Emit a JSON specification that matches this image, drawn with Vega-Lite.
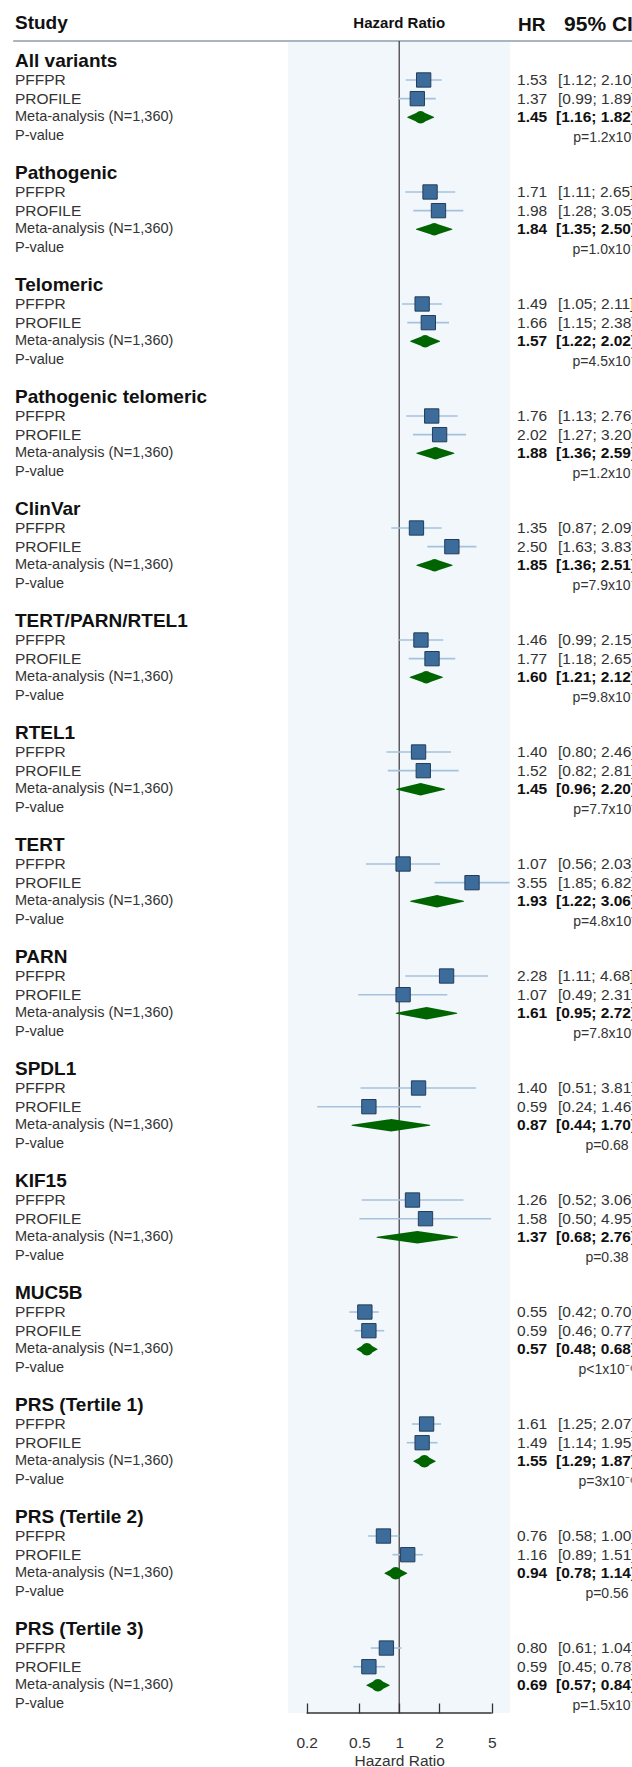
{
  "$schema": "https://vega.github.io/schema/vega-lite/v6.json",
  "width": 632,
  "height": 1713,
  "autosize": "none",
  "padding": {"left": 0, "right": 0, "top": 0, "bottom": 54},
  "background": "white",
  "config": {"view": {"stroke": null}, "font": "Liberation Sans", "text": {"font": "Liberation Sans"}},
  "data": {"name": "f"},
  "datasets": {
    "f": [
      {"grp": "All variants", "kind": "title", "row": 0, "label": "All variants"},
      {"grp": "All variants", "kind": "study", "row": 1, "label": "PFFPR", "hr": 1.53, "lo": 1.12, "hi": 2.10, "ci": "[1.12; 2.10]"},
      {"grp": "All variants", "kind": "study", "row": 2, "label": "PROFILE", "hr": 1.37, "lo": 0.99, "hi": 1.89, "ci": "[0.99; 1.89]"},
      {"grp": "All variants", "kind": "meta", "row": 3, "label": "Meta-analysis (N=1,360)", "hr": 1.45, "lo": 1.16, "hi": 1.82, "ci": "[1.16; 1.82]"},
      {"grp": "All variants", "kind": "p", "row": 4, "label": "P-value", "pt": "p=1.2x10⁻³"},

      {"grp": "Pathogenic", "kind": "title", "row": 6, "label": "Pathogenic"},
      {"grp": "Pathogenic", "kind": "study", "row": 7, "label": "PFFPR", "hr": 1.71, "lo": 1.11, "hi": 2.65, "ci": "[1.11; 2.65]"},
      {"grp": "Pathogenic", "kind": "study", "row": 8, "label": "PROFILE", "hr": 1.98, "lo": 1.28, "hi": 3.05, "ci": "[1.28; 3.05]"},
      {"grp": "Pathogenic", "kind": "meta", "row": 9, "label": "Meta-analysis (N=1,360)", "hr": 1.84, "lo": 1.35, "hi": 2.50, "ci": "[1.35; 2.50]"},
      {"grp": "Pathogenic", "kind": "p", "row": 10, "label": "P-value", "pt": "p=1.0x10⁻⁴"},

      {"grp": "Telomeric", "kind": "title", "row": 12, "label": "Telomeric"},
      {"grp": "Telomeric", "kind": "study", "row": 13, "label": "PFFPR", "hr": 1.49, "lo": 1.05, "hi": 2.11, "ci": "[1.05; 2.11]"},
      {"grp": "Telomeric", "kind": "study", "row": 14, "label": "PROFILE", "hr": 1.66, "lo": 1.15, "hi": 2.38, "ci": "[1.15; 2.38]"},
      {"grp": "Telomeric", "kind": "meta", "row": 15, "label": "Meta-analysis (N=1,360)", "hr": 1.57, "lo": 1.22, "hi": 2.02, "ci": "[1.22; 2.02]"},
      {"grp": "Telomeric", "kind": "p", "row": 16, "label": "P-value", "pt": "p=4.5x10⁻⁴"},

      {"grp": "Pathogenic telomeric", "kind": "title", "row": 18, "label": "Pathogenic telomeric"},
      {"grp": "Pathogenic telomeric", "kind": "study", "row": 19, "label": "PFFPR", "hr": 1.76, "lo": 1.13, "hi": 2.76, "ci": "[1.13; 2.76]"},
      {"grp": "Pathogenic telomeric", "kind": "study", "row": 20, "label": "PROFILE", "hr": 2.02, "lo": 1.27, "hi": 3.20, "ci": "[1.27; 3.20]"},
      {"grp": "Pathogenic telomeric", "kind": "meta", "row": 21, "label": "Meta-analysis (N=1,360)", "hr": 1.88, "lo": 1.36, "hi": 2.59, "ci": "[1.36; 2.59]"},
      {"grp": "Pathogenic telomeric", "kind": "p", "row": 22, "label": "P-value", "pt": "p=1.2x10⁻⁴"},

      {"grp": "ClinVar", "kind": "title", "row": 24, "label": "ClinVar"},
      {"grp": "ClinVar", "kind": "study", "row": 25, "label": "PFFPR", "hr": 1.35, "lo": 0.87, "hi": 2.09, "ci": "[0.87; 2.09]"},
      {"grp": "ClinVar", "kind": "study", "row": 26, "label": "PROFILE", "hr": 2.50, "lo": 1.63, "hi": 3.83, "ci": "[1.63; 3.83]"},
      {"grp": "ClinVar", "kind": "meta", "row": 27, "label": "Meta-analysis (N=1,360)", "hr": 1.85, "lo": 1.36, "hi": 2.51, "ci": "[1.36; 2.51]"},
      {"grp": "ClinVar", "kind": "p", "row": 28, "label": "P-value", "pt": "p=7.9x10⁻⁵"},

      {"grp": "TERT/PARN/RTEL1", "kind": "title", "row": 30, "label": "TERT/PARN/RTEL1"},
      {"grp": "TERT/PARN/RTEL1", "kind": "study", "row": 31, "label": "PFFPR", "hr": 1.46, "lo": 0.99, "hi": 2.15, "ci": "[0.99; 2.15]"},
      {"grp": "TERT/PARN/RTEL1", "kind": "study", "row": 32, "label": "PROFILE", "hr": 1.77, "lo": 1.18, "hi": 2.65, "ci": "[1.18; 2.65]"},
      {"grp": "TERT/PARN/RTEL1", "kind": "meta", "row": 33, "label": "Meta-analysis (N=1,360)", "hr": 1.60, "lo": 1.21, "hi": 2.12, "ci": "[1.21; 2.12]"},
      {"grp": "TERT/PARN/RTEL1", "kind": "p", "row": 34, "label": "P-value", "pt": "p=9.8x10⁻⁴"},

      {"grp": "RTEL1", "kind": "title", "row": 36, "label": "RTEL1"},
      {"grp": "RTEL1", "kind": "study", "row": 37, "label": "PFFPR", "hr": 1.40, "lo": 0.80, "hi": 2.46, "ci": "[0.80; 2.46]"},
      {"grp": "RTEL1", "kind": "study", "row": 38, "label": "PROFILE", "hr": 1.52, "lo": 0.82, "hi": 2.81, "ci": "[0.82; 2.81]"},
      {"grp": "RTEL1", "kind": "meta", "row": 39, "label": "Meta-analysis (N=1,360)", "hr": 1.45, "lo": 0.96, "hi": 2.20, "ci": "[0.96; 2.20]"},
      {"grp": "RTEL1", "kind": "p", "row": 40, "label": "P-value", "pt": "p=7.7x10⁻²"},

      {"grp": "TERT", "kind": "title", "row": 42, "label": "TERT"},
      {"grp": "TERT", "kind": "study", "row": 43, "label": "PFFPR", "hr": 1.07, "lo": 0.56, "hi": 2.03, "ci": "[0.56; 2.03]"},
      {"grp": "TERT", "kind": "study", "row": 44, "label": "PROFILE", "hr": 3.55, "lo": 1.85, "hi": 6.82, "ci": "[1.85; 6.82]"},
      {"grp": "TERT", "kind": "meta", "row": 45, "label": "Meta-analysis (N=1,360)", "hr": 1.93, "lo": 1.22, "hi": 3.06, "ci": "[1.22; 3.06]"},
      {"grp": "TERT", "kind": "p", "row": 46, "label": "P-value", "pt": "p=4.8x10⁻³"},

      {"grp": "PARN", "kind": "title", "row": 48, "label": "PARN"},
      {"grp": "PARN", "kind": "study", "row": 49, "label": "PFFPR", "hr": 2.28, "lo": 1.11, "hi": 4.68, "ci": "[1.11; 4.68]"},
      {"grp": "PARN", "kind": "study", "row": 50, "label": "PROFILE", "hr": 1.07, "lo": 0.49, "hi": 2.31, "ci": "[0.49; 2.31]"},
      {"grp": "PARN", "kind": "meta", "row": 51, "label": "Meta-analysis (N=1,360)", "hr": 1.61, "lo": 0.95, "hi": 2.72, "ci": "[0.95; 2.72]"},
      {"grp": "PARN", "kind": "p", "row": 52, "label": "P-value", "pt": "p=7.8x10⁻²"},

      {"grp": "SPDL1", "kind": "title", "row": 54, "label": "SPDL1"},
      {"grp": "SPDL1", "kind": "study", "row": 55, "label": "PFFPR", "hr": 1.40, "lo": 0.51, "hi": 3.81, "ci": "[0.51; 3.81]"},
      {"grp": "SPDL1", "kind": "study", "row": 56, "label": "PROFILE", "hr": 0.59, "lo": 0.24, "hi": 1.46, "ci": "[0.24; 1.46]"},
      {"grp": "SPDL1", "kind": "meta", "row": 57, "label": "Meta-analysis (N=1,360)", "hr": 0.87, "lo": 0.44, "hi": 1.70, "ci": "[0.44; 1.70]"},
      {"grp": "SPDL1", "kind": "p", "row": 58, "label": "P-value", "pt": "p=0.68"},

      {"grp": "KIF15", "kind": "title", "row": 60, "label": "KIF15"},
      {"grp": "KIF15", "kind": "study", "row": 61, "label": "PFFPR", "hr": 1.26, "lo": 0.52, "hi": 3.06, "ci": "[0.52; 3.06]"},
      {"grp": "KIF15", "kind": "study", "row": 62, "label": "PROFILE", "hr": 1.58, "lo": 0.50, "hi": 4.95, "ci": "[0.50; 4.95]"},
      {"grp": "KIF15", "kind": "meta", "row": 63, "label": "Meta-analysis (N=1,360)", "hr": 1.37, "lo": 0.68, "hi": 2.76, "ci": "[0.68; 2.76]"},
      {"grp": "KIF15", "kind": "p", "row": 64, "label": "P-value", "pt": "p=0.38"},

      {"grp": "MUC5B", "kind": "title", "row": 66, "label": "MUC5B"},
      {"grp": "MUC5B", "kind": "study", "row": 67, "label": "PFFPR", "hr": 0.55, "lo": 0.42, "hi": 0.70, "ci": "[0.42; 0.70]"},
      {"grp": "MUC5B", "kind": "study", "row": 68, "label": "PROFILE", "hr": 0.59, "lo": 0.46, "hi": 0.77, "ci": "[0.46; 0.77]"},
      {"grp": "MUC5B", "kind": "meta", "row": 69, "label": "Meta-analysis (N=1,360)", "hr": 0.57, "lo": 0.48, "hi": 0.68, "ci": "[0.48; 0.68]"},
      {"grp": "MUC5B", "kind": "p", "row": 70, "label": "P-value", "pt": "p<1x10⁻⁶"},

      {"grp": "PRS (Tertile 1)", "kind": "title", "row": 72, "label": "PRS (Tertile 1)"},
      {"grp": "PRS (Tertile 1)", "kind": "study", "row": 73, "label": "PFFPR", "hr": 1.61, "lo": 1.25, "hi": 2.07, "ci": "[1.25; 2.07]"},
      {"grp": "PRS (Tertile 1)", "kind": "study", "row": 74, "label": "PROFILE", "hr": 1.49, "lo": 1.14, "hi": 1.95, "ci": "[1.14; 1.95]"},
      {"grp": "PRS (Tertile 1)", "kind": "meta", "row": 75, "label": "Meta-analysis (N=1,360)", "hr": 1.55, "lo": 1.29, "hi": 1.87, "ci": "[1.29; 1.87]"},
      {"grp": "PRS (Tertile 1)", "kind": "p", "row": 76, "label": "P-value", "pt": "p=3x10⁻⁶"},

      {"grp": "PRS (Tertile 2)", "kind": "title", "row": 78, "label": "PRS (Tertile 2)"},
      {"grp": "PRS (Tertile 2)", "kind": "study", "row": 79, "label": "PFFPR", "hr": 0.76, "lo": 0.58, "hi": 1.00, "ci": "[0.58; 1.00]"},
      {"grp": "PRS (Tertile 2)", "kind": "study", "row": 80, "label": "PROFILE", "hr": 1.16, "lo": 0.89, "hi": 1.51, "ci": "[0.89; 1.51]"},
      {"grp": "PRS (Tertile 2)", "kind": "meta", "row": 81, "label": "Meta-analysis (N=1,360)", "hr": 0.94, "lo": 0.78, "hi": 1.14, "ci": "[0.78; 1.14]"},
      {"grp": "PRS (Tertile 2)", "kind": "p", "row": 82, "label": "P-value", "pt": "p=0.56"},

      {"grp": "PRS (Tertile 3)", "kind": "title", "row": 84, "label": "PRS (Tertile 3)"},
      {"grp": "PRS (Tertile 3)", "kind": "study", "row": 85, "label": "PFFPR", "hr": 0.80, "lo": 0.61, "hi": 1.04, "ci": "[0.61; 1.04]"},
      {"grp": "PRS (Tertile 3)", "kind": "study", "row": 86, "label": "PROFILE", "hr": 0.59, "lo": 0.45, "hi": 0.78, "ci": "[0.45; 0.78]"},
      {"grp": "PRS (Tertile 3)", "kind": "meta", "row": 87, "label": "Meta-analysis (N=1,360)", "hr": 0.69, "lo": 0.57, "hi": 0.84, "ci": "[0.57; 0.84]"},
      {"grp": "PRS (Tertile 3)", "kind": "p", "row": 88, "label": "P-value", "pt": "p=1.5x10⁻⁴"}
    ]
  },
  "layer": [
    {
      "data": {"values": [{}]},
      "mark": {"type": "rect", "color": "#f2f7fc"},
      "encoding": {
        "x": {"datum": 0.1444, "type": "quantitative",
              "scale": {"type": "log", "domain": [0.000962, 57.43], "nice": false},
              "axis": {"values": [0.2, 0.5, 1, 2, 5], "format": "~g", "domain": false, "grid": false, "zindex": 1,
                       "tickSize": -10, "tickColor": "#333333", "tickWidth": 1.3,
                       "labelFontSize": 15.5, "labelColor": "#333333", "labelBaseline": "middle", "labelPadding": 39,
                       "labelFlush": false, "labelOverlap": false,
                       "title": "Hazard Ratio", "titleFontSize": 15.5, "titleFontWeight": "normal", "titleColor": "#333333",
                       "titleX": 399.2, "titleY": 47, "titleAlign": "center", "titleBaseline": "middle", "titleAnchor": null}},
        "x2": {"datum": 6.877},
        "y": {"datum": -1.03, "type": "quantitative",
              "scale": {"type": "linear", "domain": [-3.284, 88.48], "reverse": true, "nice": false, "zero": false},
              "axis": null},
        "y2": {"datum": 88.48}
      }
    },
    {
      "data": {"values": [{}]},
      "mark": {"type": "rule", "color": "#a9b5c0", "strokeWidth": 2},
      "encoding": {
        "x": {"datum": 0.00121, "type": "quantitative"},
        "x2": {"datum": 60},
        "y": {"datum": -1.086, "type": "quantitative", "axis": null}
      }
    },
    {
      "data": {"values": [{}]},
      "mark": {"type": "rule", "color": "#444444", "strokeWidth": 1.3},
      "encoding": {
        "x": {"datum": 1, "type": "quantitative"},
        "y": {"datum": -1.086, "type": "quantitative", "axis": null},
        "y2": {"datum": 88.48}
      }
    },
    {
      "data": {"values": [{}]},
      "mark": {"type": "rule", "color": "#333333", "strokeWidth": 1.3},
      "encoding": {
        "x": {"datum": 0.2, "type": "quantitative"},
        "x2": {"datum": 5},
        "y": {"datum": 88.48, "type": "quantitative", "axis": null}
      }
    },
    {
      "transform": [{"filter": "datum.kind == 'study'"}],
      "mark": {"type": "rule", "color": "#a4c2de", "strokeWidth": 1.6},
      "encoding": {
        "x": {"field": "lo", "type": "quantitative"},
        "x2": {"field": "hi"},
        "y": {"field": "row", "type": "quantitative", "axis": null}
      }
    },
    {
      "transform": [{"filter": "datum.kind == 'study'"}],
      "mark": {"type": "point", "shape": "square", "filled": true, "size": 205, "fill": "#3c6c9b", "stroke": "#233d58", "strokeWidth": 1, "opacity": 1},
      "encoding": {
        "x": {"field": "hr", "type": "quantitative"},
        "y": {"field": "row", "type": "quantitative", "axis": null}
      }
    },
    {
      "transform": [{"filter": "datum.kind == 'meta'"}, {"fold": ["lo", "hr", "hi"], "as": ["key", "val"]}],
      "mark": {"type": "trail", "color": "#006400"},
      "encoding": {
        "x": {"field": "val", "type": "quantitative"},
        "y": {"field": "row", "type": "quantitative", "axis": null},
        "detail": {"field": "grp", "type": "nominal"},
        "order": {"field": "val", "type": "quantitative"},
        "size": {"field": "key", "type": "nominal", "scale": {"type": "ordinal", "domain": ["lo", "hr", "hi"], "range": [0, 12.5, 0]}, "legend": null}
      }
    },
    {
      "transform": [{"filter": "datum.kind == 'title'"}],
      "mark": {"type": "text", "align": "left", "baseline": "middle", "fontSize": 19, "fontWeight": "bold", "color": "#111111"},
      "encoding": {
        "x": {"datum": 0.001249, "type": "quantitative"},
        "y": {"field": "row", "type": "quantitative", "axis": null},
        "text": {"field": "label"}
      }
    },
    {
      "transform": [{"filter": "datum.kind == 'study'"}],
      "mark": {"type": "text", "align": "left", "baseline": "middle", "fontSize": 15.5, "color": "#333333"},
      "encoding": {
        "x": {"datum": 0.001249, "type": "quantitative"},
        "y": {"field": "row", "type": "quantitative", "axis": null},
        "text": {"field": "label"}
      }
    },
    {
      "transform": [{"filter": "datum.kind == 'meta' || datum.kind == 'p'"}],
      "mark": {"type": "text", "align": "left", "baseline": "middle", "fontSize": 14.5, "color": "#333333"},
      "encoding": {
        "x": {"datum": 0.001249, "type": "quantitative"},
        "y": {"field": "row", "type": "quantitative", "axis": null},
        "text": {"field": "label"}
      }
    },
    {
      "transform": [{"filter": "datum.kind == 'study'"}],
      "mark": {"type": "text", "align": "left", "baseline": "middle", "fontSize": 15.5, "color": "#333333"},
      "encoding": {
        "x": {"datum": 7.768, "type": "quantitative"},
        "y": {"field": "row", "type": "quantitative", "axis": null},
        "text": {"field": "hr", "type": "quantitative", "format": ".2f"}
      }
    },
    {
      "transform": [{"filter": "datum.kind == 'study'"}],
      "mark": {"type": "text", "align": "left", "baseline": "middle", "fontSize": 15.5, "color": "#333333"},
      "encoding": {
        "x": {"datum": 15.85, "type": "quantitative"},
        "y": {"field": "row", "type": "quantitative", "axis": null},
        "text": {"field": "ci"}
      }
    },
    {
      "transform": [{"filter": "datum.kind == 'meta'"}],
      "mark": {"type": "text", "align": "left", "baseline": "middle", "fontSize": 15.5, "fontWeight": "bold", "color": "#111111"},
      "encoding": {
        "x": {"datum": 7.768, "type": "quantitative"},
        "y": {"field": "row", "type": "quantitative", "axis": null},
        "text": {"field": "hr", "type": "quantitative", "format": ".2f"}
      }
    },
    {
      "transform": [{"filter": "datum.kind == 'meta'"}],
      "mark": {"type": "text", "align": "left", "baseline": "middle", "fontSize": 15.5, "fontWeight": "bold", "color": "#111111"},
      "encoding": {
        "x": {"datum": 15.3, "type": "quantitative"},
        "y": {"field": "row", "type": "quantitative", "axis": null},
        "text": {"field": "ci"}
      }
    },
    {
      "transform": [{"filter": "datum.kind == 'p'"}],
      "mark": {"type": "text", "align": "center", "baseline": "middle", "fontSize": 14, "color": "#333333", "dy": 2},
      "encoding": {
        "x": {"datum": 37.18, "type": "quantitative"},
        "y": {"field": "row", "type": "quantitative", "axis": null},
        "text": {"field": "pt"}
      }
    },
    {
      "data": {"values": [{}]},
      "mark": {"type": "text", "text": "Study", "align": "left", "baseline": "middle", "fontSize": 19, "fontWeight": "bold", "color": "#111111"},
      "encoding": {
        "x": {"datum": 0.001249, "type": "quantitative"},
        "y": {"datum": -2.05, "type": "quantitative", "axis": null}
      }
    },
    {
      "data": {"values": [{}]},
      "mark": {"type": "text", "text": "Hazard Ratio", "align": "center", "baseline": "middle", "fontSize": 15, "fontWeight": "bold", "color": "#111111"},
      "encoding": {
        "x": {"datum": 1, "type": "quantitative"},
        "y": {"datum": -2.05, "type": "quantitative", "axis": null}
      }
    },
    {
      "data": {"values": [{}]},
      "mark": {"type": "text", "text": "HR", "align": "left", "baseline": "middle", "fontSize": 19, "fontWeight": "bold", "color": "#111111"},
      "encoding": {
        "x": {"datum": 7.9, "type": "quantitative"},
        "y": {"datum": -1.95, "type": "quantitative", "axis": null}
      }
    },
    {
      "data": {"values": [{}]},
      "mark": {"type": "text", "text": "95% CI", "align": "left", "baseline": "middle", "fontSize": 21, "fontWeight": "bold", "color": "#111111"},
      "encoding": {
        "x": {"datum": 17.6, "type": "quantitative"},
        "y": {"datum": -1.95, "type": "quantitative", "axis": null}
      }
    }
  ]
}
